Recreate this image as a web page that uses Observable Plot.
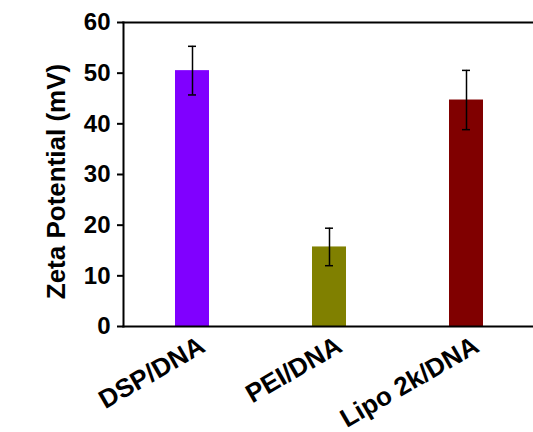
<!DOCTYPE html>
<html>
<head>
<meta charset="utf-8">
<script src="https://cdn.jsdelivr.net/npm/d3@7"></script>
<script src="https://cdn.jsdelivr.net/npm/@observablehq/plot@0.6"></script>
<style>
  html, body { margin: 0; padding: 0; background: #fff; }
  svg { display: block; }
</style>
</head>
<body>
<div id="chart"></div>
<script>
const categories = ["DSP/DNA", "PEI/DNA", "Lipo 2k/DNA"];
const values = [50.5, 15.7, 44.7];
const errors = [4.8, 3.7, 5.85];
const colors = ["#8000ff", "#808000", "#800000"];
const yTicks = [0, 10, 20, 30, 40, 50, 60];
const yLabel = "Zeta Potential (mV)";

const data = categories.map((c, i) => ({cat: c, v: values[i], e: errors[i]}));
const font = "Arial, 'Liberation Sans', sans-serif";

const chart = Plot.plot({
  width: 533,
  height: 432,
  marginTop: 22,
  marginBottom: 106,
  marginLeft: 123,
  marginRight: 0,
  style: {fontFamily: font, background: "#fff", color: "#000"},
  x: {domain: categories, range: [123, 535.5], paddingInner: 0.75, paddingOuter: 0.375, axis: null},
  y: {domain: [0, 60], axis: null},
  color: {domain: categories, range: colors},
  marks: [
    Plot.barY(data, {x: "cat", y: "v", fill: "cat"}),
    Plot.ruleX(data, {x: "cat", y1: d => d.v - d.e, y2: d => d.v + d.e, stroke: "#000", strokeWidth: 1.5}),
    Plot.tickY(data, {x: "cat", y: d => d.v + d.e, stroke: "#000", strokeWidth: 1.5, insetLeft: 13, insetRight: 13}),
    Plot.tickY(data, {x: "cat", y: d => d.v - d.e, stroke: "#000", strokeWidth: 1.5, insetLeft: 13, insetRight: 13}),
    Plot.axisY({ticks: yTicks, tickSize: 6, tickPadding: 7, strokeWidth: 2, fontSize: 24, fontWeight: "bold", label: null, tickFormat: d => d}),
    Plot.frame({anchor: "left", strokeWidth: 2}),
    Plot.frame({anchor: "top", strokeWidth: 2}),
    Plot.frame({anchor: "bottom", strokeWidth: 2}),
    Plot.text(categories, {x: d => d, frameAnchor: "bottom", rotate: -30, textAnchor: "end", lineAnchor: "middle", dx: 10, dy: 17, fontSize: 26, fontWeight: "bold", fill: "#000"}),
    Plot.text([yLabel], {frameAnchor: "left", rotate: -90, textAnchor: "middle", lineAnchor: "bottom", dx: -59, dy: 7, fontSize: 26, fontWeight: "bold", fill: "#000"})
  ]
});
document.getElementById("chart").appendChild(chart);
</script>
</body>
</html>
